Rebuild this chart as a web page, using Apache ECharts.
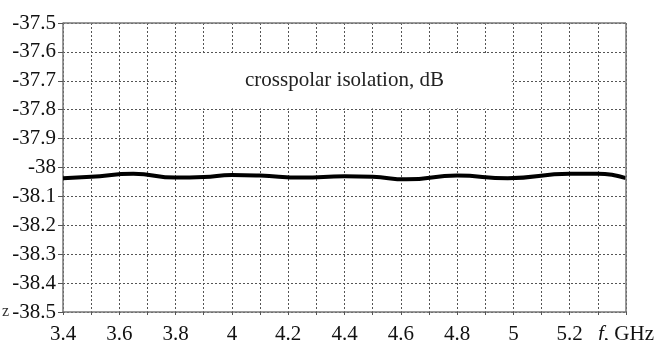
<!DOCTYPE html>
<html>
<head>
<meta charset="utf-8">
<script src="https://cdn.jsdelivr.net/npm/echarts@6/dist/echarts.min.js"></script>
<style>
  html, body { margin: 0; padding: 0; background: #fff; }
  #main { width: 657px; height: 340px; }
</style>
</head>
<body>
<div id="main"></div>
<script>
// frequency, GHz
const freq = [3.4, 3.5, 3.65, 3.8, 3.9, 4.0, 4.1, 4.25, 4.4, 4.5, 4.62, 4.8, 4.98, 5.2, 5.3, 5.4]
// crosspolar isolation, dB
const isolation = [-38.037, -38.032, -38.022, -38.035, -38.033, -38.026, -38.028, -38.035, -38.030, -38.032, -38.041, -38.028, -38.037, -38.022, -38.022, -38.037]
const xTicks = ['3.4', '3.6', '3.8', '4', '4.2', '4.4', '4.6', '4.8', '5', '5.2']
const yTicks = ['-37.5', '-37.6', '-37.7', '-37.8', '-37.9', '-38', '-38.1', '-38.2', '-38.3', '-38.4', '-38.5']
const labelText = 'crosspolar isolation, dB'

const serif = '"Liberation Serif", "DejaVu Serif", serif'
const chart = echarts.init(document.getElementById('main'))

const points = freq.map((f, i) => [f, isolation[i]])

chart.setOption({
  animation: false,
  backgroundColor: '#fff',
  grid: { left: 63, right: 31, top: 23, bottom: 28, outerBoundsMode: 'none', containLabel: false },
  xAxis: {
    type: 'value',
    min: 3.4, max: 5.4, interval: 0.1,
    axisLine: { lineStyle: { color: '#777', width: 1.5 } },
    axisTick: { show: true, length: 3, inside: false, lineStyle: { color: '#555' } },
    splitLine: { show: true, lineStyle: { color: '#555', type: [2, 2], width: 1 } },
    axisLabel: {
      margin: 12,
      color: '#111',
      fontFamily: serif,
      fontSize: 21,
      showMaxLabel: true,
      formatter: v => {
        const s = String(parseFloat(v.toFixed(1)))
        if (Math.abs(v - 5.4) < 1e-6) return '{it|f}{n|, GHz}'
        return xTicks.indexOf(s) >= 0 ? s : ''
      },
      rich: {
        it: { fontStyle: 'italic', fontFamily: serif, fontSize: 21, color: '#111' },
        n: { fontFamily: serif, fontSize: 21, color: '#111' }
      }
    }
  },
  yAxis: {
    type: 'value',
    min: -38.5, max: -37.5, interval: 0.1,
    axisLine: { show: true, lineStyle: { color: '#777', width: 1.5 } },
    axisTick: { show: true, length: 5, lineStyle: { color: '#555' } },
    splitLine: { show: true, lineStyle: { color: '#555', type: [2, 2], width: 1 } },
    axisLabel: {
      margin: 7,
      color: '#111',
      fontFamily: serif,
      fontSize: 21,
      formatter: v => {
        const s = String(parseFloat(v.toFixed(1)))
        return yTicks.indexOf(s) >= 0 ? s : ''
      }
    }
  },
  graphic: [
    // right and top frame of the plot
    { type: 'line', shape: { x1: 63, y1: 23, x2: 626, y2: 23 }, style: { stroke: '#777', lineWidth: 1.5 }, z: 10 },
    { type: 'line', shape: { x1: 626, y1: 23, x2: 626, y2: 312 }, style: { stroke: '#777', lineWidth: 1.5 }, z: 10 },
    { type: 'text', left: 2, top: 304, style: { text: 'z', font: '16px ' + serif, fill: '#333' } }
  ],
  series: [
    {
      type: 'line',
      data: points,
      smooth: true,
      showSymbol: false,
      lineStyle: { color: '#000', width: 4 },
      markArea: {
        silent: true,
        itemStyle: { color: '#fff', opacity: 1 },
        label: {
          show: true,
          position: 'inside',
          color: '#222',
          fontFamily: serif,
          fontSize: 21
        },
        data: [[
          { name: labelText, coord: [3.806, -37.604] },
          { coord: [4.994, -37.796] }
        ]]
      }
    }
  ]
})
</script>
</body>
</html>
